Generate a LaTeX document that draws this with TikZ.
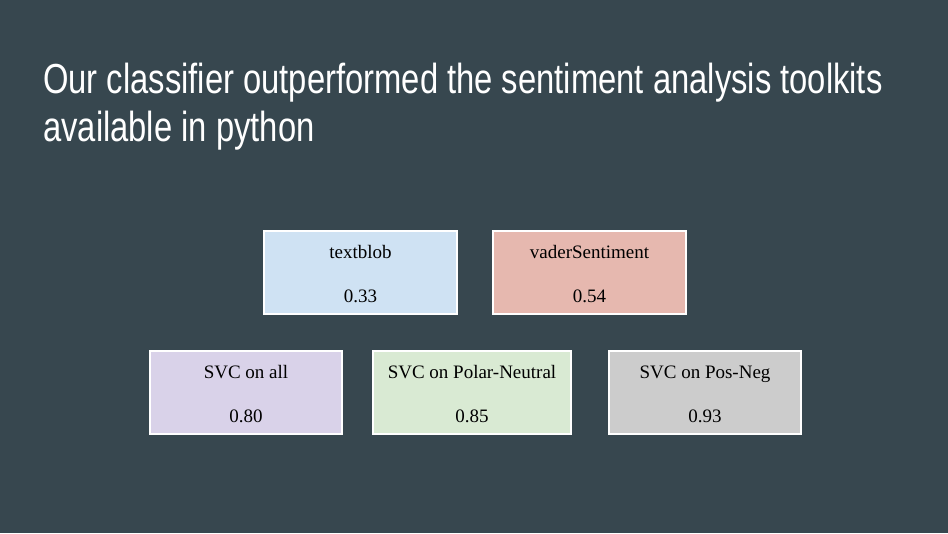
\documentclass[tikz,border=0pt]{standalone}
\usepackage{fontspec}
\setmainfont{Liberation Serif}
\newfontfamily\titlefont[FakeStretch=0.78]{Liberation Sans}
\definecolor{bgc}{HTML}{37474F}
\definecolor{cblue}{HTML}{CFE2F3}
\definecolor{cred}{HTML}{E6B8AF}
\definecolor{cpurple}{HTML}{D9D2E9}
\definecolor{cgreen}{HTML}{D9EAD3}
\definecolor{cgrey}{HTML}{CCCCCC}
\tikzset{
  resbox/.style={draw=white, line width=2pt, inner sep=0pt, anchor=north west},
  boxlabel/.style={anchor=base, inner sep=0pt, font=\fontsize{19}{22}\selectfont, text=black},
  titletext/.style={anchor=base west, inner sep=0pt, text=white, font=\titlefont\fontsize{42}{48}\selectfont}
}
\begin{document}
\begin{tikzpicture}[x=1pt,y=1pt]
\fill[bgc] (0,0) rectangle (948,-533);
\useasboundingbox (0,0) rectangle (948,-533);
\node[titletext] (t1) at (43,-93) {Our classifier outperformed the sentiment analysis toolkits};
\node[titletext] (t2) at (43,-141) {available in python};
% boxes
\node[resbox, fill=cblue, minimum width=193pt, minimum height=83pt] (b1) at (263,-230) {};
\node[resbox, fill=cred, minimum width=193pt, minimum height=83pt] (b2) at (492,-230) {};
\node[resbox, fill=cpurple, minimum width=192pt, minimum height=83pt] (b3) at (149,-350) {};
\node[resbox, fill=cgreen, minimum width=198pt, minimum height=83pt] (b4) at (372,-350) {};
\node[resbox, fill=cgrey, minimum width=192pt, minimum height=83pt] (b5) at (608,-350) {};
% labels
\node[boxlabel] (l1) at ([yshift=-28pt]b1.north) {textblob};
\node[boxlabel] (v1) at ([yshift=-72pt]b1.north) {0.33};
\node[boxlabel] (l2) at ([yshift=-28pt]b2.north) {vaderSentiment};
\node[boxlabel] (v2) at ([yshift=-72pt]b2.north) {0.54};
\node[boxlabel] (l3) at ([yshift=-28pt]b3.north) {SVC on all};
\node[boxlabel] (v3) at ([yshift=-72pt]b3.north) {0.80};
\node[boxlabel] (l4) at ([yshift=-28pt]b4.north) {SVC on Polar-Neutral};
\node[boxlabel] (v4) at ([yshift=-72pt]b4.north) {0.85};
\node[boxlabel] (l5) at ([yshift=-28pt]b5.north) {SVC on Pos-Neg};
\node[boxlabel] (v5) at ([yshift=-72pt]b5.north) {0.93};
\end{tikzpicture}
\end{document}
